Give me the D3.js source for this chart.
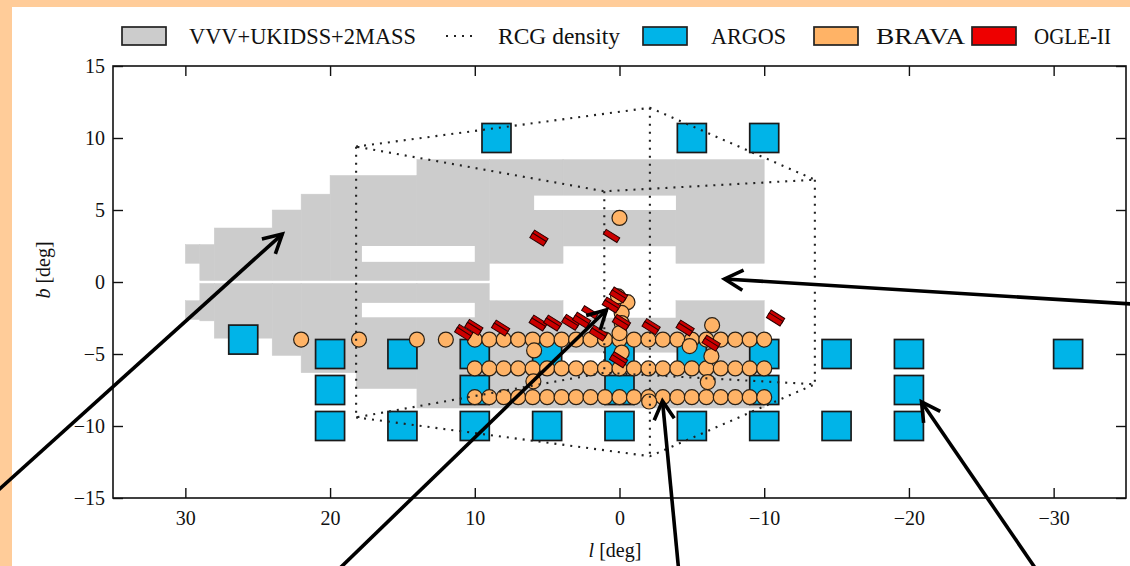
<!DOCTYPE html>
<html>
<head>
<meta charset="utf-8">
<script src="https://cdn.jsdelivr.net/npm/d3@7"></script>
<style>
  body { margin: 0; background: #ffcc99; }
  svg { display: block; }
  text { font-family: "Liberation Serif", "DejaVu Serif", serif; fill: #111; }
</style>
</head>
<body>
<svg width="1130" height="566"></svg>
<script>
// ---- data (galactic l, b in degrees) ----

// VVV+UKIDSS+2MASS coverage as blocks [l1, l2, b1, b2]
var surveyBlocks = [
  [30, 29, 1.3, 2.6], [29, 28, 0.1, 2.6], [28, 24, 0.1, 3.75], [24, 22, 0.1, 5.0],
  [22, 20, 0.1, 6.1], [20, 14, 0.1, 7.4], [14, 9, 0.1, 8.5], [9, 3.9, 1.3, 8.5],
  [3.9, -3.9, 2.5, 8.5], [-3.9, -10, 1.3, 8.5],
  [30, 29, -2.6, -1.3], [29, 28, -2.7, -0.1], [28, 24, -3.9, -0.1], [24, 22, -5.1, -0.1],
  [22, 18.2, -6.3, -0.1], [18.2, 14, -7.4, -0.1], [14, 9, -8.75, -0.1], [9, 3.9, -8.75, -1.3],
  [3.9, -3.9, -8.75, -2.5], [-3.9, -10, -8.75, -1.3]
];
// gaps inside the coverage
var surveyHoles = [
  [17.8, 10, 1.4, 2.5], [5.9, -3.9, 5.0, 6.0],
  [17.8, 10, -2.45, -1.45], [4, -4, -5.7, -4.9]
];

// RCG density box corners: left, near, right, far
var rcgTop    = [[18.2, 9.4], [-2.1, 12.1], [-13.5, 7.1], [1.05, 6.3]];
var rcgBottom = [[18.2, -9.4], [-2.1, -12.1], [-13.5, -7.1], [1.05, -6.3]];

// ARGOS fields
var argosFields = [
  [8.5, 10], [-5, 10], [-10, 10],
  [26, -4],
  [20, -5], [15, -5], [10, -5], [5, -5], [0, -5], [-5, -5], [-10, -5], [-15, -5], [-20, -5], [-31, -5],
  [20, -7.5], [10, -7.5], [0, -7.5], [-10, -7.5], [-20, -7.5],
  [20, -10], [15, -10], [10, -10], [5, -10], [0, -10], [-5, -10], [-10, -10], [-15, -10], [-20, -10]
];

// BRAVA fields: three strips plus extra fields
var bravaRow4 = [22, 18, 14, 12, 10, 9, 8, 7, 6, 5, 4, 3, 2, 1, 0, -1, -2, -3, -4, -5, -6, -7, -8, -9, -10];
var bravaRow6 = [10, 9, 8, 7, 6, 5, 4, 3, 2, 1, 0, -1, -2, -3, -4, -5, -6, -7, -8, -9, -10];
var bravaRow8 = [10, 9, 8, 7, 6, 5, 4, 3, 2, 1, 0, -1, -2, -3, -4, -5, -6, -7, -8, -9, -10];
var bravaExtra = [
  [0, 4.45], [-0.55, -1.4], [0.1, -1.0], [-0.15, -2.15], [-0.15, -2.85], [0, -3.55], [-0.15, -4.9],
  [-6.4, -3.0], [-4.85, -4.45], [-6.35, -5.15], [-6.1, -6.95], [-2.05, -8.3],
  [5.9, -4.75], [5.95, -6.9]
];

// OGLE-II fields
var ogleFields = [
  [5.5, 3.15], [5.63, 2.95], [0.55, 3.2],
  [10.7, -3.4], [10.83, -3.6], [10.0, -3.05], [10.13, -3.25], [8.15, -3.1], [8.28, -3.3],
  [5.55, -2.75], [5.68, -2.95], [4.55, -2.75], [4.68, -2.95], [3.3, -2.7], [3.43, -2.9],
  [2.55, -2.55], [2.68, -2.75], [2.05, -2.1], [1.4, -3.45], [1.53, -3.65],
  [0.0, -0.8], [0.13, -1.0], [0.5, -1.5], [0.63, -1.7], [-0.2, -2.7], [-0.07, -2.9],
  [-2.25, -3.0], [-2.12, -3.2], [-4.6, -3.1], [-4.47, -3.3], [-6.4, -4.15], [-6.27, -4.35],
  [-10.85, -2.4], [-10.72, -2.6], [0.0, -5.3], [0.13, -5.5]
];

// annotation arrows [head l, head b, tail l, tail b]
var arrows = [
  [23.3, 3.33, 43.2, -14.7],
  [0.9, -1.94, 19.35, -19.9],
  [-2.97, -8.26, -4.08, -19.9],
  [-20.87, -8.33, -28.75, -19.9],
  [-7.26, 0.21, -35.4, -1.53]
];

var xTicks = [30, 20, 10, 0, -10, -20, -30];
var yTicks = [-15, -10, -5, 0, 5, 10, 15];

var legendItems = ["VVV+UKIDSS+2MASS", "RCG density", "ARGOS", "BRAVA", "OGLE-II"];

// ---- layout ----
var svg = d3.select("svg");
var W = 1130, H = 566;
var pL = 113, pR = 1126, pT = 66, pB = 498;

var x = d3.scaleLinear().domain([35, -35]).range([pL, pR]);
var y = d3.scaleLinear().domain([-15, 15]).range([pB, pT]);

var cGray = "#cccccc", cArgos = "#00b4e8", cBrava = "#ffb366", cOgle = "#cc0000";
var dots = "2,6";

// white sheet over peach border
svg.append("rect").attr("x", 12).attr("y", 7).attr("width", W).attr("height", H).attr("fill", "#fff");

var plot = svg.append("g");

// survey coverage
plot.selectAll(".blk").data(surveyBlocks).enter().append("rect")
  .attr("x", d => x(d[0])).attr("width", d => x(d[1]) - x(d[0]))
  .attr("y", d => y(d[3])).attr("height", d => y(d[2]) - y(d[3]))
  .attr("fill", cGray).attr("stroke", cGray).attr("stroke-width", 0.5);
plot.selectAll(".hole").data(surveyHoles).enter().append("rect")
  .attr("x", d => x(d[0])).attr("width", d => x(d[1]) - x(d[0]))
  .attr("y", d => y(d[3])).attr("height", d => y(d[2]) - y(d[3]))
  .attr("fill", "#fff");

// ARGOS
var sq = 29;
plot.selectAll(".argos").data(argosFields).enter().append("rect")
  .attr("x", d => x(d[0]) - sq / 2).attr("y", d => y(d[1]) - sq / 2)
  .attr("width", sq).attr("height", sq)
  .attr("fill", cArgos).attr("stroke", "#1a1a1a").attr("stroke-width", 1.7);

// BRAVA
var brava = bravaRow4.map(l => [l, -4])
  .concat(bravaRow6.map(l => [l, -6]))
  .concat(bravaRow8.map(l => [l, -8]))
  .concat(bravaExtra);
plot.selectAll(".brava").data(brava).enter().append("circle")
  .attr("cx", d => x(d[0])).attr("cy", d => y(d[1])).attr("r", 7.5)
  .attr("fill", cBrava).attr("stroke", "#2a2015").attr("stroke-width", 1.2);

// RCG density box
var line = d3.line().x(d => x(d[0])).y(d => y(d[1]));
var rcgEdges = [rcgTop.concat([rcgTop[0]]), rcgBottom.concat([rcgBottom[0]])];
rcgTop.forEach((p, i) => rcgEdges.push([p, rcgBottom[i]]));
plot.selectAll(".rcg").data(rcgEdges).enter().append("path")
  .attr("d", line).attr("fill", "none")
  .attr("stroke", "#222").attr("stroke-width", 2.1)
  .attr("stroke-dasharray", dots);

// OGLE-II
plot.selectAll(".ogle").data(ogleFields).enter().append("rect")
  .attr("x", -8).attr("y", -2.7).attr("width", 16).attr("height", 5.4)
  .attr("transform", d => "translate(" + x(d[0]) + "," + y(d[1]) + ") rotate(32)")
  .attr("fill", cOgle).attr("stroke", "#2a0000").attr("stroke-width", 1);

// axes, ticks pointing inwards
var fmt = d3.format("d");
svg.append("g").attr("transform", "translate(0," + pB + ")")
  .call(d3.axisBottom(x).tickValues(xTicks).tickSize(-10).tickSizeOuter(0).tickPadding(13).tickFormat(fmt))
  .call(g => g.select(".domain").remove());
svg.append("g").attr("transform", "translate(0," + pT + ")")
  .call(d3.axisTop(x).tickValues(xTicks).tickSize(-10).tickSizeOuter(0).tickFormat(""))
  .call(g => g.select(".domain").remove());
svg.append("g").attr("transform", "translate(" + pL + ",0)")
  .call(d3.axisLeft(y).tickValues(yTicks).tickSize(-10).tickSizeOuter(0).tickPadding(8).tickFormat(fmt))
  .call(g => g.select(".domain").remove());
svg.append("g").attr("transform", "translate(" + pR + ",0)")
  .call(d3.axisRight(y).tickValues(yTicks).tickSize(-10).tickSizeOuter(0).tickFormat(""))
  .call(g => g.select(".domain").remove());
svg.selectAll(".tick line").attr("stroke", "#111").attr("stroke-width", 1.4);
svg.selectAll(".tick text").style("font-family", "'Liberation Serif', serif").style("font-size", "20px").attr("fill", "#111");

svg.append("rect").attr("x", pL).attr("y", pT).attr("width", pR - pL).attr("height", pB - pT)
  .attr("fill", "none").attr("stroke", "#111").attr("stroke-width", 1.6);

// axis labels
var xl = svg.append("text").attr("x", 615).attr("y", 557).attr("text-anchor", "middle").style("font-size", "20px");
xl.append("tspan").style("font-style", "italic").text("l");
xl.append("tspan").text(" [deg]");
var yl = svg.append("text").attr("transform", "translate(50,270) rotate(-90)").attr("text-anchor", "middle").style("font-size", "20px");
yl.append("tspan").style("font-style", "italic").text("b");
yl.append("tspan").text(" [deg]");

// arrows
var ann = svg.append("g").attr("stroke", "#000").attr("stroke-width", 3.6).attr("fill", "none");
arrows.forEach(function (a) {
  var hx = x(a[0]), hy = y(a[1]), tx = x(a[2]), ty = y(a[3]);
  var ang = Math.atan2(ty - hy, tx - hx), len = 21, spread = 0.5;
  ann.append("line").attr("x1", tx).attr("y1", ty).attr("x2", hx).attr("y2", hy);
  ann.append("path").attr("stroke-linejoin", "miter")
    .attr("d", "M" + (hx + len * Math.cos(ang + spread)) + "," + (hy + len * Math.sin(ang + spread)) +
      "L" + hx + "," + hy +
      "L" + (hx + len * Math.cos(ang - spread)) + "," + (hy + len * Math.sin(ang - spread)));
});

// legend
var lgY = 36;
var boxX = [122, null, 643, 814, 972];
var boxFill = [cGray, null, cArgos, "#ffb366", "#ee0000"];
var textX = [189, 498, 711, 876, 1034];
var textW = [227, 122, 75, 89, 77];
var lg = svg.append("g");
legendItems.forEach(function (name, i) {
  if (boxX[i] !== null) {
    lg.append("rect").attr("x", boxX[i]).attr("y", lgY - 9).attr("width", 44).attr("height", 18)
      .attr("fill", boxFill[i]).attr("stroke", "#222").attr("stroke-width", 1.7);
  } else {
    lg.append("line").attr("x1", 446).attr("x2", 478).attr("y1", lgY).attr("y2", lgY)
      .attr("stroke", "#222").attr("stroke-width", 2.1).attr("stroke-dasharray", dots);
  }
  lg.append("text").attr("x", textX[i]).attr("y", lgY + 8)
    .attr("textLength", textW[i]).attr("lengthAdjust", "spacingAndGlyphs")
    .style("font-size", "23px").text(name);
});
</script>
</body>
</html>
